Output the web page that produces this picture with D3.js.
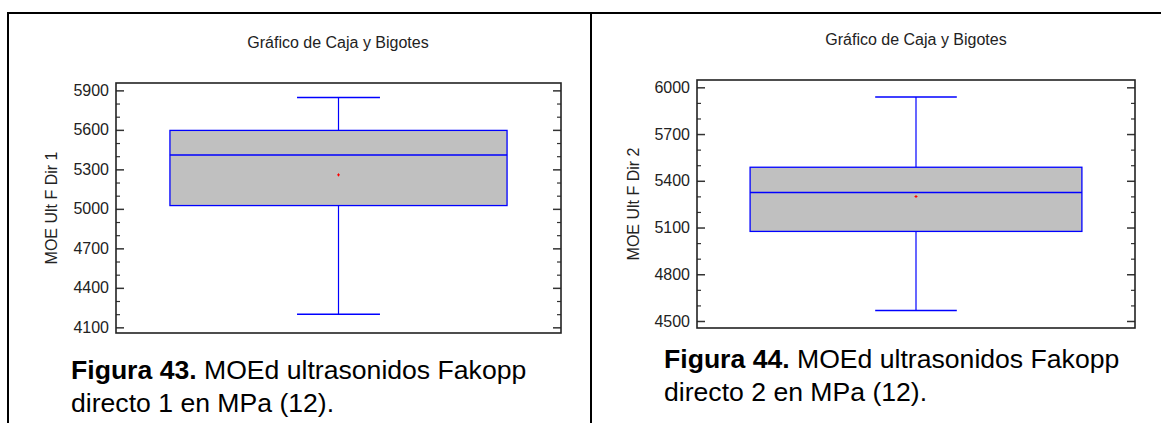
<!DOCTYPE html>
<html>
<head>
<meta charset="utf-8">
<script src="https://cdn.jsdelivr.net/npm/d3@7"></script>
<style>
  body { margin: 0; background: #fff; }
  svg { display: block; font-family: "Liberation Sans", Arial, sans-serif; }
</style>
</head>
<body>
<svg id="chart" width="1161" height="423"></svg>
<script>
// chart values, one entry per panel
const titles = ["Gráfico de Caja y Bigotes", "Gráfico de Caja y Bigotes"];
const yLabels = ["MOE Ult F Dir 1", "MOE Ult F Dir 2"];
const figNumbers = ["Figura 43.", "Figura 44."];
const captionLine1 = [" MOEd ultrasonidos Fakopp", " MOEd ultrasonidos Fakopp"];
const captionLine2 = ["directo 1 en MPa (12).", "directo 2 en MPa (12)."];
const yDomains = [[4057, 5956], [4455, 6047]];
const majorTicks = [[4100, 4400, 4700, 5000, 5300, 5600, 5900], [4500, 4800, 5100, 5400, 5700, 6000]];
const minorTicks = [
  [4200, 4300, 4500, 4600, 4800, 4900, 5100, 5200, 5400, 5500, 5700, 5800],
  [4600, 4700, 4900, 5000, 5200, 5300, 5500, 5600, 5800, 5900]
];
const mins = [4199, 4568];
const q1s = [5025, 5075];
const medians = [5410, 5325];
const q3s = [5596, 5487];
const maxs = [5845, 5938];
const means = [5258, 5299];

// layout of each panel (pixels)
const panels = [
  { left: 116, top: 83, right: 561, bottom: 333, titleX: 338, titleY: 48, labelX: 57, capX: 71, capY: 379 },
  { left: 697, top: 80, right: 1135, bottom: 328, titleX: 916, titleY: 45, labelX: 639, capX: 664, capY: 368 }
];

const svg = d3.select("#chart");

// page frame lines
svg.append("line").attr("x1", 8).attr("x2", 1161).attr("y1", 13).attr("y2", 13)
  .attr("stroke", "#000").attr("stroke-width", 2);
svg.append("line").attr("x1", 8).attr("x2", 8).attr("y1", 12).attr("y2", 423)
  .attr("stroke", "#000").attr("stroke-width", 2);
svg.append("line").attr("x1", 591).attr("x2", 591).attr("y1", 12).attr("y2", 423)
  .attr("stroke", "#000").attr("stroke-width", 2);

panels.forEach((p, i) => {
  const w = p.right - p.left;
  const h = p.bottom - p.top;
  const g = svg.append("g").attr("transform", `translate(${p.left},${p.top})`);

  const y = d3.scaleLinear().domain(yDomains[i]).range([h, 0]);
  const x = d3.scaleBand().domain([yLabels[i]]).range([0, w]).paddingOuter(0.16).paddingInner(0);
  const bx = x(yLabels[i]);
  const bw = x.bandwidth();
  const cx = bx + bw / 2;
  const capHalf = bw * 0.123;

  // title
  svg.append("text").attr("x", p.titleX).attr("y", p.titleY)
    .attr("text-anchor", "middle").attr("font-size", 16).attr("fill", "#222")
    .text(titles[i]);

  // y axis label
  svg.append("text")
    .attr("transform", `translate(${p.labelX},${p.top + h / 2}) rotate(-90)`)
    .attr("text-anchor", "middle").attr("font-size", 16).attr("fill", "#222")
    .text(yLabels[i]);

  // whiskers
  g.append("line").attr("x1", cx).attr("x2", cx).attr("y1", y(maxs[i])).attr("y2", y(q3s[i]))
    .attr("stroke", "#0000ff").attr("stroke-width", 1.2);
  g.append("line").attr("x1", cx).attr("x2", cx).attr("y1", y(q1s[i])).attr("y2", y(mins[i]))
    .attr("stroke", "#0000ff").attr("stroke-width", 1.2);
  g.append("line").attr("x1", cx - capHalf).attr("x2", cx + capHalf).attr("y1", y(maxs[i])).attr("y2", y(maxs[i]))
    .attr("stroke", "#0000ff").attr("stroke-width", 1.5);
  g.append("line").attr("x1", cx - capHalf).attr("x2", cx + capHalf).attr("y1", y(mins[i])).attr("y2", y(mins[i]))
    .attr("stroke", "#0000ff").attr("stroke-width", 1.5);

  // box
  g.append("rect").attr("x", bx).attr("width", bw)
    .attr("y", y(q3s[i])).attr("height", y(q1s[i]) - y(q3s[i]))
    .attr("fill", "#c0c0c0").attr("stroke", "#0000ff").attr("stroke-width", 1.3);
  g.append("line").attr("x1", bx).attr("x2", bx + bw).attr("y1", y(medians[i])).attr("y2", y(medians[i]))
    .attr("stroke", "#0000ff").attr("stroke-width", 1.5);

  // mean marker
  const my = y(means[i]);
  g.append("path").attr("d", `M${cx - 1.5},${my}H${cx + 1.5}M${cx},${my - 1.5}V${my + 1.5}`)
    .attr("stroke", "#ff0000").attr("stroke-width", 1);

  // axes: major and minor ticks, inward on both sides
  const left = g.append("g").call(d3.axisLeft(y).tickValues(majorTicks[i]).tickSize(-8).tickPadding(7).tickFormat(d3.format("d")));
  left.select(".domain").remove();
  left.selectAll("text").attr("font-size", 16).attr("fill", "#222").attr("font-family", null);
  left.selectAll("line").attr("stroke", "#333").attr("stroke-width", 1.5);

  const leftMinor = g.append("g").call(d3.axisLeft(y).tickValues(minorTicks[i]).tickSize(-4).tickFormat(""));
  leftMinor.select(".domain").remove();
  leftMinor.selectAll("line").attr("stroke", "#333").attr("stroke-width", 1.2);

  const right = g.append("g").attr("transform", `translate(${w},0)`)
    .call(d3.axisRight(y).tickValues(majorTicks[i]).tickSize(-8).tickFormat(""));
  right.select(".domain").remove();
  right.selectAll("line").attr("stroke", "#333").attr("stroke-width", 1.5);

  const rightMinor = g.append("g").attr("transform", `translate(${w},0)`)
    .call(d3.axisRight(y).tickValues(minorTicks[i]).tickSize(-4).tickFormat(""));
  rightMinor.select(".domain").remove();
  rightMinor.selectAll("line").attr("stroke", "#333").attr("stroke-width", 1.2);

  // plot frame
  g.append("rect").attr("width", w).attr("height", h)
    .attr("fill", "none").attr("stroke", "#222").attr("stroke-width", 1.6);

  // caption
  const cap = svg.append("text").attr("x", p.capX).attr("y", p.capY).attr("font-size", 26.6).attr("fill", "#000");
  cap.append("tspan").attr("font-weight", "bold").text(figNumbers[i]);
  cap.append("tspan").text(captionLine1[i]);
  svg.append("text").attr("x", p.capX).attr("y", p.capY + 33).attr("font-size", 26.6).attr("fill", "#000")
    .text(captionLine2[i]);
});
</script>
</body>
</html>
